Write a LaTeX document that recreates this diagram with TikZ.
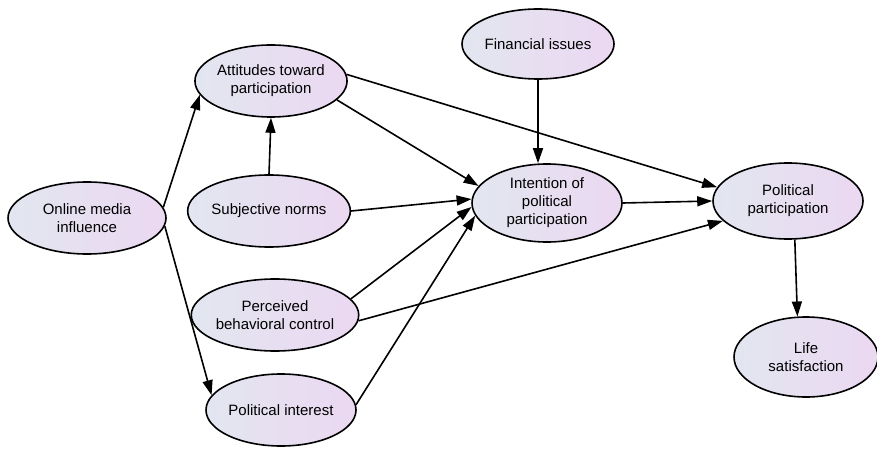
\documentclass[tikz,border=0pt]{standalone}
\usepackage{fontspec}
\setmainfont{Liberation Sans}
\usetikzlibrary{shapes.geometric, arrows.meta}
\definecolor{oval left}{RGB}{226,230,240}
\definecolor{oval right}{RGB}{235,216,241}

\begin{document}
\begin{tikzpicture}[x=1pt, y=-1pt, >={Triangle[length=15pt,width=10pt]},
  oval/.style={ellipse, draw, line width=1.6pt, left color=oval left, right color=oval right,
    minimum width=150pt, minimum height=72pt, inner sep=0pt, align=center,
    font=\fontsize{15}{18}\selectfont},
  link/.style={->, line width=1.6pt}]
\useasboundingbox (0,0) rectangle (877,454);

\node[oval, minimum width=158pt] (online) at (87,218) {Online media\\influence};
\node[oval] (att) at (271,81) {Attitudes toward\\participation};
\node[oval] (subj) at (269,211) {Subjective norms};
\node[oval] (perc) at (275,315) {Perceived\\behavioral control};
\node[oval] (inter) at (281,410) {Political interest};
\node[oval, minimum width=152pt, minimum height=70pt] (fin) at (538,44) {Financial issues};
\node[oval, minimum height=78pt] (intent) at (547,203) {Intention of\\political\\participation};
\node[oval, minimum height=76pt] (polpart) at (788,201) {Political\\participation};
\node[oval, minimum width=144pt, minimum height=80pt] (life) at (806,357) {Life\\satisfaction};

% paths from online media
\draw[link] (online.8) -- (att.191);
\draw[link] (online.-6) -- (inter.168);
% paths into intention
\draw[link] (subj.north) -- (att.south);
\draw[link] (att.-16) -- (intent.166);
\draw[link] (subj.east) -- (intent.177);
\draw[link] (perc.12) -- (intent.183);
\draw[link] (inter.4) -- (intent.190);
\draw[link] (fin.south) -- (fin.south |- intent.north);
% paths into political participation
\draw[link] (att.5) -- (polpart.169);
\draw[link] (intent.east) -- (polpart.west);
\draw[link] (perc.-4) -- (polpart.197);
\draw[link] (polpart.-80) -- (life.102);

\end{tikzpicture}
\end{document}
